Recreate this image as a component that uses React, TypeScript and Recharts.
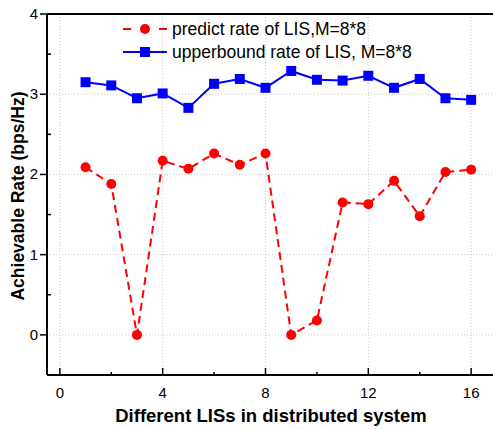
import React from 'react';
import { LineChart, Line, XAxis, YAxis, CartesianGrid, ReferenceLine } from 'recharts';

const lisIndex = [1, 2, 3, 4, 5, 6, 7, 8, 9, 10, 11, 12, 13, 14, 15, 16];
const predictRate = [2.09, 1.88, 0.0, 2.17, 2.07, 2.26, 2.12, 2.26, 0.0, 0.18, 1.65, 1.63, 1.92, 1.48, 2.03, 2.06];
const upperRate = [3.15, 3.11, 2.95, 3.01, 2.83, 3.13, 3.19, 3.08, 3.29, 3.18, 3.17, 3.23, 3.08, 3.19, 2.95, 2.93];
const xTicks = [0, 2, 4, 6, 8, 10, 12, 14, 16];
const yTicks = [-0.5, 0, 0.5, 1, 1.5, 2, 2.5, 3, 3.5, 4];

const data = lisIndex.map((x, i) => ({ x, predict: predictRate[i], upper: upperRate[i] }));

const FONT = 'Arial, "Liberation Sans", sans-serif';
const RED = '#ff0000';
const BLUE = '#0000ff';

const XTick = (props: any) => {
  const { x, y, payload } = props;
  const major = payload.value % 4 === 0;
  const axisY = y - 8;
  return (
    <g>
      <line x1={x} x2={x} y1={axisY} y2={axisY - (major ? 7 : 3)} stroke="#000" strokeWidth={1.5} />
      {major && (
        <text x={x} y={axisY + 23} textAnchor="middle" fontSize={15} fontFamily={FONT} fill="#000">
          {payload.value}
        </text>
      )}
    </g>
  );
};

const YTick = (props: any) => {
  const { x, y, payload } = props;
  const major = Number.isInteger(payload.value);
  const axisX = x + 8;
  return (
    <g>
      {major ? (
        <line x1={axisX} x2={axisX - 7} y1={y} y2={y} stroke="#000" strokeWidth={1.5} />
      ) : (
        <line x1={axisX} x2={axisX + 4} y1={y} y2={y} stroke="#000" strokeWidth={1.5} />
      )}
      {major && (
        <text x={axisX - 9} y={y} dy={5} textAnchor="end" fontSize={15} fontFamily={FONT} fill="#000">
          {payload.value}
        </text>
      )}
    </g>
  );
};

const Square = (props: any) => {
  const { cx, cy } = props;
  if (cx == null || cy == null) return null;
  return <rect x={cx - 5} y={cy - 5} width={10} height={10} fill={BLUE} />;
};

const YLabel = () => (
  <text
    x={18}
    y={196}
    transform="rotate(-90 18 196)"
    textAnchor="middle"
    dominantBaseline="central"
    fontSize={17.5}
    fontWeight="bold"
    fontFamily={FONT}
    fill="#000"
  >
    Achievable Rate (bps/Hz)
  </text>
);

const XLabel = () => (
  <text x={271} y={422} textAnchor="middle" fontSize={18.5} fontWeight="bold" fontFamily={FONT} fill="#000">
    Different LISs in distributed system
  </text>
);

const LegendBox = () => (
  <div
    style={{
      position: 'absolute',
      left: 121,
      top: 18,
      fontFamily: FONT,
      fontSize: 17.5,
      color: '#000',
      lineHeight: '22.5px',
      pointerEvents: 'none',
    }}
  >
    <div style={{ display: 'flex', alignItems: 'center' }}>
      <svg width={48} height={22}>
        <line x1={2} x2={10} y1={11} y2={11} stroke={RED} strokeWidth={2} />
        <line x1={38} x2={46} y1={11} y2={11} stroke={RED} strokeWidth={2} />
        <circle cx={24} cy={11} r={5} fill={RED} />
      </svg>
      <span style={{ marginLeft: 3 }}>predict rate of LIS,M=8*8</span>
    </div>
    <div style={{ display: 'flex', alignItems: 'center' }}>
      <svg width={48} height={22}>
        <line x1={2} x2={46} y1={11} y2={11} stroke={BLUE} strokeWidth={2} />
        <rect x={19} y={6} width={10} height={10} fill={BLUE} />
      </svg>
      <span style={{ marginLeft: 3 }}>upperbound rate of LIS, M=8*8</span>
    </div>
  </div>
);

export default function App() {
  return (
    <div style={{ position: 'absolute', left: 0, top: 0, width: 493, height: 430, background: '#fff' }}>
      <LineChart width={493} height={430} data={data} margin={{ top: 14, right: 0, left: 0, bottom: 0 }}>
        <CartesianGrid
          stroke="#c8c8c8"
          strokeDasharray="1 2"
          horizontalValues={[0, 1, 2, 3, 4]}
          verticalValues={[0, 4, 8, 12, 16]}
        />
        <XAxis
          dataKey="x"
          type="number"
          domain={[-0.5, 16.85]}
          ticks={xTicks}
          tick={<XTick />}
          tickLine={false}
          axisLine={{ stroke: '#000', strokeWidth: 2 }}
          height={55}
          allowDataOverflow
          label={<XLabel />}
        />
        <YAxis
          type="number"
          domain={[-0.5, 4]}
          ticks={yTicks}
          tick={<YTick />}
          tickLine={false}
          axisLine={{ stroke: '#000', strokeWidth: 2 }}
          width={47}
          allowDataOverflow
          label={<YLabel />}
        />
        <ReferenceLine y={4} stroke="#000" strokeWidth={2} />
        <Line
          dataKey="predict"
          stroke={RED}
          strokeWidth={2}
          strokeDasharray="8 5"
          dot={{ r: 5, fill: RED, stroke: RED, strokeWidth: 0 }}
          isAnimationActive={false}
        />
        <Line
          dataKey="upper"
          stroke={BLUE}
          strokeWidth={2}
          dot={<Square />}
          isAnimationActive={false}
        />
      </LineChart>
      <LegendBox />
    </div>
  );
}
